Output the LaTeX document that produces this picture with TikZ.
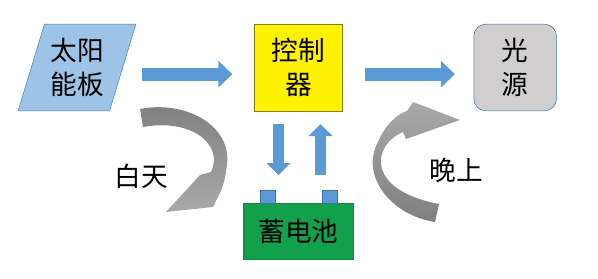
\documentclass[tikz,border=0pt]{standalone}
\usepackage{fontspec}
\newfontfamily\cjk{Noto Sans CJK SC}
\usepackage{tikz}
\usetikzlibrary{positioning,shapes.geometric,arrows.meta}

\definecolor{flowblue}{HTML}{5B9BD5}
\definecolor{panelfill}{HTML}{9DC3E6}
\definecolor{panelline}{HTML}{4F81BD}
\definecolor{ctrlline}{HTML}{7F7F20}
\definecolor{lampfill}{HTML}{D0CECE}
\definecolor{lampline}{HTML}{41719C}
\definecolor{battfill}{HTML}{12A04C}
\definecolor{battline}{HTML}{0E8A3E}
\definecolor{bendDark}{HTML}{7F7F7F}
\definecolor{bendLight}{HTML}{A9A9A9}

\begin{document}
\begin{tikzpicture}[
        x=0.75pt, y=-0.75pt,
        font=\cjk\fontsize{20}{26}\selectfont,
        panel/.style={trapezium, trapezium left angle=70, trapezium right angle=110, trapezium stretches=true, draw=panelline, fill=panelfill, minimum width=88.5pt, minimum height=65pt, inner sep=0pt, align=center},
        ctrlbox/.style={rectangle, draw=ctrlline, fill=yellow, minimum width=66pt, minimum height=65pt, inner sep=0pt, align=center},
        lamp/.style={rectangle, rounded corners=9pt, draw=lampline, fill=lampfill, minimum width=62pt, minimum height=65pt, inner sep=0pt, align=center},
        battbox/.style={rectangle, draw=battline, fill=battfill, minimum width=82.5pt, minimum height=42pt, inner sep=0pt},
        terminal/.style={rectangle, draw=lampline, fill=flowblue, minimum width=11.25pt, minimum height=9.75pt, inner sep=0pt},
        flow/.style={draw=flowblue, line width=10pt, -{Triangle[length=10.5pt, width=19.5pt]}},
        vflow/.style={draw=flowblue, line width=8.5pt, -{Triangle[length=9pt, width=17.5pt]}}
    ]
        \useasboundingbox (0,0) rectangle (598,278);

        % Nodes
        \node (panel) [panel] at (77,67.5) {太阳\\能板};
        \node (ctrl) [ctrlbox, right=98.5pt of panel] {控制\\器};
        \node (lamp) [lamp, right=98pt of ctrl] {光\\源};
        \node (batt) [battbox, below=69pt of ctrl] {蓄电池};
        \node (termL) [terminal, anchor=south] at ([xshift=-23pt]batt.north) {};
        \node (termR) [terminal, anchor=south] at ([xshift=23.5pt]batt.north) {};

        % Energy flow
        \draw [flow, shorten <=14pt, shorten >=16.5pt] ([yshift=-5pt]panel.east) -- ([yshift=-5pt]ctrl.west);
        \draw [flow, shorten <=16.5pt, shorten >=14pt] ([yshift=-5pt]ctrl.east) -- ([yshift=-5pt]lamp.west);
        \draw [vflow, shorten <=9.75pt, shorten >=21pt] ([xshift=-15pt]ctrl.south) -- ([xshift=-15pt]batt.north);
        \draw [vflow, shorten <=21pt, shorten >=9.75pt] ([xshift=16.5pt]batt.north) -- ([xshift=16.5pt]ctrl.south);

        % Day and night bends
        \shade [top color=bendDark, bottom color=bendLight]
            (140,109) .. controls (185,100) and (232,125) .. (227,165)
            .. controls (224,185) .. (213,207)
            -- (166,212) -- (200,175) -- (211,172)
            .. controls (224,145) and (192,118) .. (143,127) -- cycle;
        \shade [top color=bendLight, bottom color=bendDark]
            (435,222) .. controls (390,215) and (360,175) .. (378,142)
            .. controls (385,125) and (397,114) .. (407,111)
            -- (413,102) -- (460,120) -- (406,139) -- (403,132)
            .. controls (372,145) and (365,190) .. (439,204) -- cycle;

        \node (day) at (141.5,176.5) {白天};
        \node (night) at (456.5,170) {晚上};
    \end{tikzpicture}
\end{document}
